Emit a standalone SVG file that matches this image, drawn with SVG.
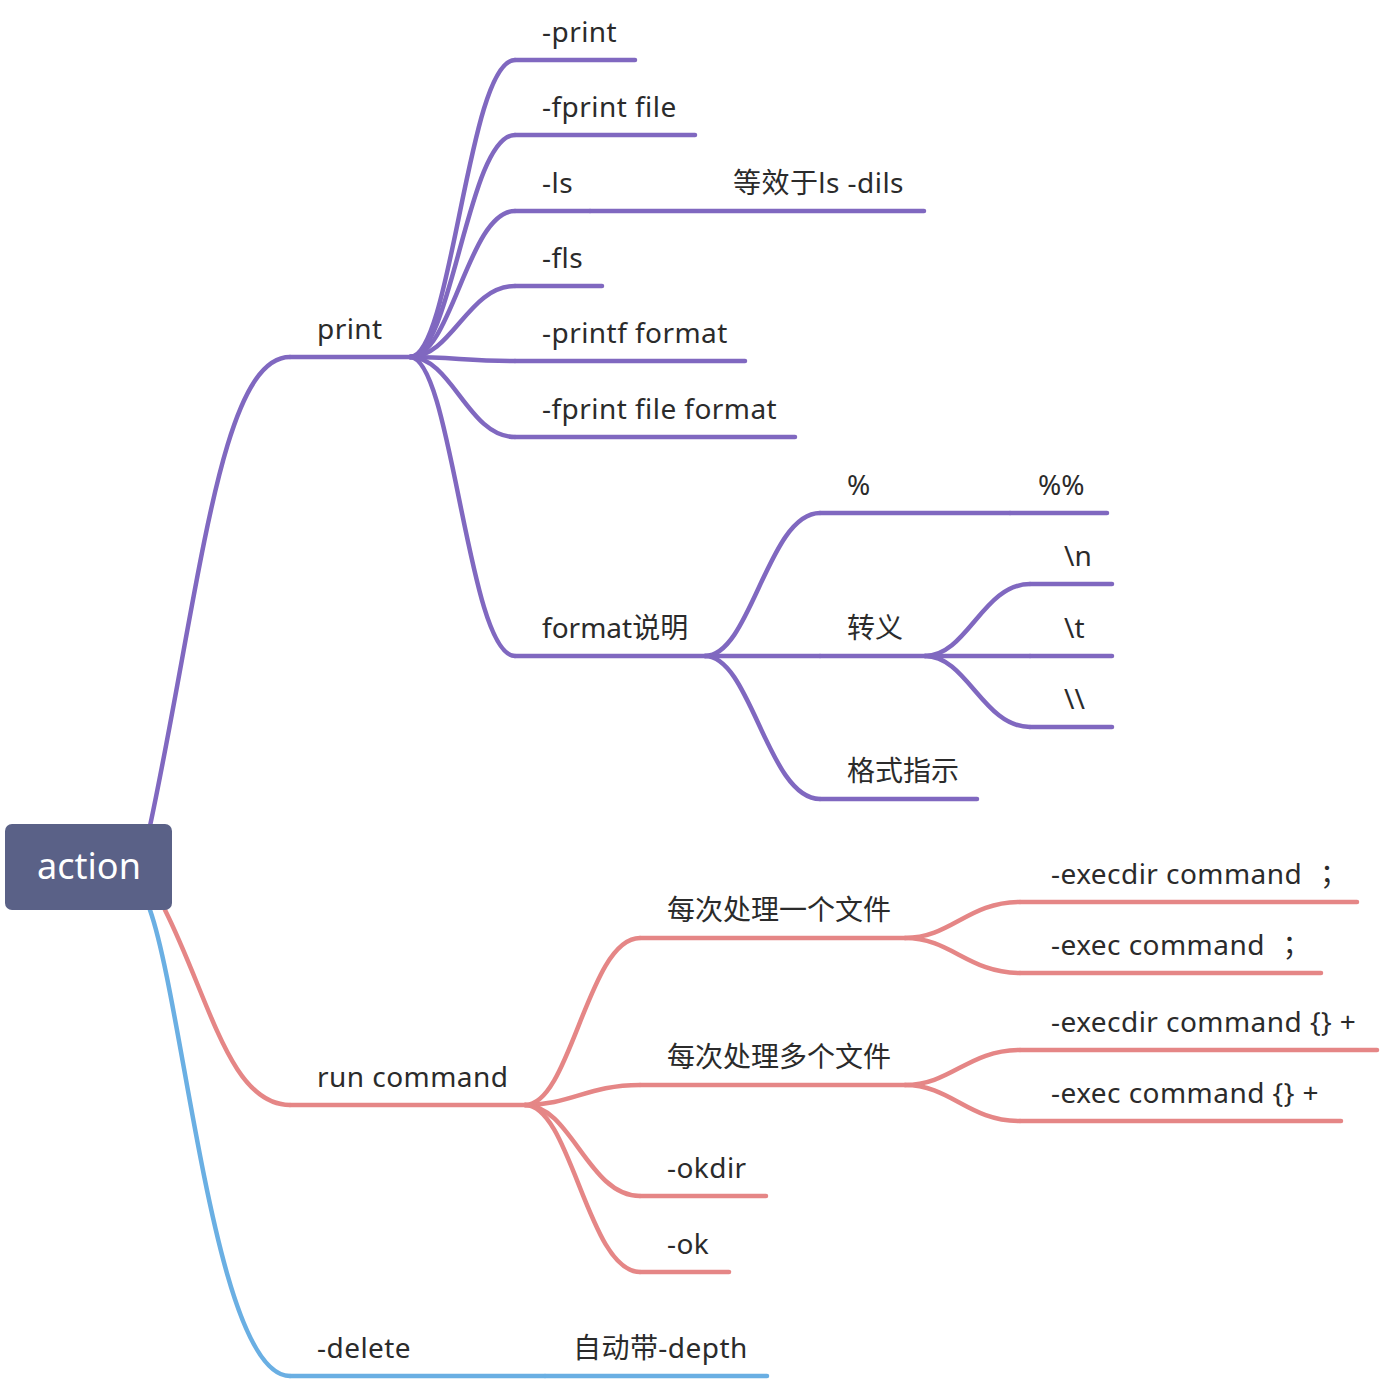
<svg xmlns="http://www.w3.org/2000/svg" width="1380" height="1380" viewBox="0 0 1380 1380">
<style>
.t{font-family:"Noto Sans","Noto Sans CJK SC",sans-serif;font-size:28px;fill:#2b2b2b}
.l{letter-spacing:0.45px}
.p{stroke:#8068c0;stroke-width:4.5;fill:none;stroke-linecap:round}
.r{stroke:#e58686;stroke-width:4.5;fill:none;stroke-linecap:round}
.b{stroke:#6aafe3;stroke-width:4.5;fill:none;stroke-linecap:round}
</style>
<rect width="1380" height="1380" fill="#ffffff"/>
<g id="connectors">
<path class="p" d="M150,826 C200,590 220,357 290,357"/>
<path class="r" d="M165,910 C210,1000 230,1105 290,1105"/>
<path class="b" d="M150,910 C185,1010 215,1376 290,1376"/>
<path class="p" d="M410,357 C452,357 468,60 515,60"/>
<path class="p" d="M410,357 C452,357 468,135 515,135"/>
<path class="p" d="M410,357 C452,357 468,211 515,211"/>
<path class="p" d="M410,357 C452,357 468,286 515,286"/>
<path class="p" d="M410,357 C452,357 468,361 515,361"/>
<path class="p" d="M410,357 C452,357 468,437 515,437"/>
<path class="p" d="M410,357 C452,357 468,656 515,656"/>
<path class="p" d="M705,656 C751,656 768,513 820,513"/>
<path class="p" d="M705,656 C751,656 768,656 820,656"/>
<path class="p" d="M705,656 C751,656 768,799 820,799"/>
<path class="p" d="M925,656 C967,656 983,584 1030,584"/>
<path class="p" d="M925,656 C967,656 983,656 1030,656"/>
<path class="p" d="M925,656 C967,656 983,727 1030,727"/>
<path class="r" d="M525,1105 C571,1105 588,938 640,938"/>
<path class="r" d="M525,1105 C571,1105 588,1085 640,1085"/>
<path class="r" d="M525,1105 C571,1105 588,1196 640,1196"/>
<path class="r" d="M525,1105 C571,1105 588,1272 640,1272"/>
<path class="r" d="M905,938 C951,938 968,902 1020,902"/>
<path class="r" d="M905,938 C951,938 968,973 1020,973"/>
<path class="r" d="M905,1085 C951,1085 968,1050 1020,1050"/>
<path class="r" d="M905,1085 C951,1085 968,1121 1020,1121"/>
</g>
<g id="root">
<rect x="5" y="824" width="167" height="86" rx="7" fill="#5a6187"/>
<text x="89" y="879" text-anchor="middle" style="font-family:'Noto Sans',sans-serif;font-size:36px;fill:#ffffff">action</text>
</g>
<g id="n-print"><path class="p" d="M290,357 H410"/><text class="t l" x="317" y="339">print</text></g>
<g id="n-print1"><path class="p" d="M515,60 H635"/><text class="t l" x="542" y="42">-print</text></g>
<g id="n-fprintfile"><path class="p" d="M515,135 H695"/><text class="t l" x="542" y="117">-fprint file</text></g>
<g id="n-ls"><path class="p" d="M515,211 H590"/><text class="t l" x="542" y="193">-ls</text></g>
<g id="n-lsdils"><path class="p" d="M590,211 H924"/><text class="t l" x="733" y="193">等效于ls -dils</text></g>
<g id="n-fls"><path class="p" d="M515,286 H602"/><text class="t l" x="542" y="268">-fls</text></g>
<g id="n-printf"><path class="p" d="M515,361 H745"/><text class="t l" x="542" y="343">-printf format</text></g>
<g id="n-fprintfileformat"><path class="p" d="M515,437 H795"/><text class="t l" x="542" y="419">-fprint file format</text></g>
<g id="n-format"><path class="p" d="M515,656 H705"/><text class="t" x="542" y="638">format说明</text></g>
<g id="n-pct"><path class="p" d="M820,513 H1010"/><text class="t" x="847" y="495">%</text></g>
<g id="n-pctpct"><path class="p" d="M1010,513 H1107"/><text class="t" x="1038" y="495">%%</text></g>
<g id="n-escape"><path class="p" d="M820,656 H925"/><text class="t" x="847" y="638">转义</text></g>
<g id="n-nl"><path class="p" d="M1030,584 H1112"/><text class="t" x="1064" y="566">\n</text></g>
<g id="n-tab"><path class="p" d="M1030,656 H1112"/><text class="t" x="1064" y="638">\t</text></g>
<g id="n-bs"><path class="p" d="M1030,727 H1112"/><text class="t" x="1064" y="709">\\</text></g>
<g id="n-fmtind"><path class="p" d="M820,799 H977"/><text class="t" x="847" y="781">格式指示</text></g>
<g id="n-run"><path class="r" d="M290,1105 H525"/><text class="t l" x="317" y="1087">run command</text></g>
<g id="n-one"><path class="r" d="M640,938 H905"/><text class="t" x="667" y="920">每次处理一个文件</text></g>
<g id="n-execdir1"><path class="r" d="M1020,902 H1357"/><text class="t l" x="1051" y="884">-execdir command <tspan dx="10">；</tspan></text></g>
<g id="n-exec1"><path class="r" d="M1020,973 H1321"/><text class="t l" x="1051" y="955">-exec command <tspan dx="10">；</tspan></text></g>
<g id="n-many"><path class="r" d="M640,1085 H905"/><text class="t" x="667" y="1067">每次处理多个文件</text></g>
<g id="n-execdir2"><path class="r" d="M1020,1050 H1377"/><text class="t l" x="1051" y="1032">-execdir command {} +</text></g>
<g id="n-exec2"><path class="r" d="M1020,1121 H1341"/><text class="t l" x="1051" y="1103">-exec command {} +</text></g>
<g id="n-okdir"><path class="r" d="M640,1196 H766"/><text class="t l" x="667" y="1178">-okdir</text></g>
<g id="n-ok"><path class="r" d="M640,1272 H729"/><text class="t l" x="667" y="1254">-ok</text></g>
<g id="n-delete"><path class="b" d="M290,1376 H545"/><text class="t l" x="317" y="1358">-delete</text></g>
<g id="n-depth"><path class="b" d="M545,1376 H767"/><text class="t l" x="573" y="1358">自动带-depth</text></g>
</svg>
